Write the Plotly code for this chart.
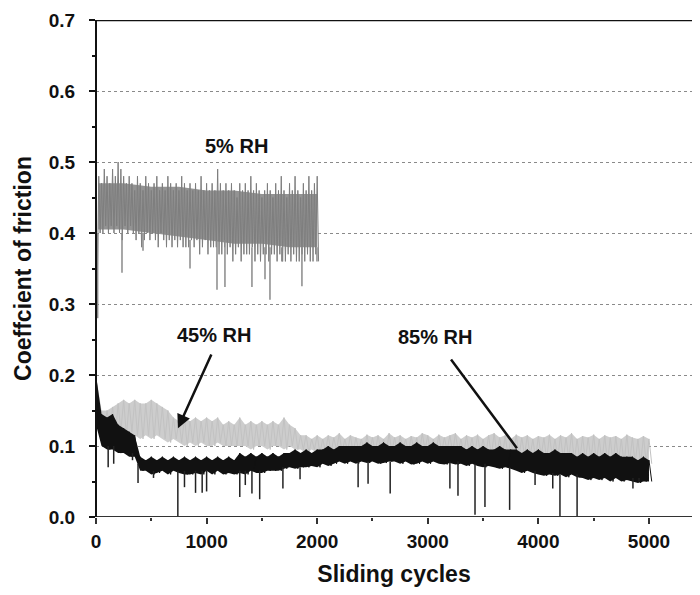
import numpy as np
import plotly.graph_objects as go

# cycles sampled every 25 (5% RH) and every 50 (45% / 85% RH)
cycles_5 = list(range(0, 2001, 25))
cycles_45 = list(range(0, 5001, 50))
cycles_85 = list(range(0, 5001, 50))

# upper / lower edges of the noisy friction band
rh5_high = [0.40, 0.48, 0.47, 0.49, 0.48, 0.47, 0.49, 0.48, 0.50, 0.49,
            0.48, 0.47, 0.48, 0.47, 0.46, 0.48, 0.47, 0.46, 0.48, 0.47,
            0.46, 0.47, 0.48, 0.46, 0.47, 0.46, 0.48, 0.47, 0.46, 0.47,
            0.46, 0.48, 0.47, 0.46, 0.47, 0.46, 0.47, 0.46, 0.48, 0.46,
            0.47, 0.46, 0.47, 0.46, 0.49, 0.47, 0.46, 0.47, 0.46, 0.47,
            0.46, 0.45, 0.47, 0.46, 0.47, 0.46, 0.48, 0.46, 0.47, 0.46,
            0.45, 0.46, 0.47, 0.46, 0.45, 0.47, 0.46, 0.48, 0.46, 0.45,
            0.47, 0.46, 0.48, 0.46, 0.45, 0.47, 0.46, 0.48, 0.46, 0.47,
            0.48]
rh5_low = [0.34, 0.40, 0.40, 0.41, 0.40, 0.41, 0.40, 0.41, 0.40, 0.39,
           0.41, 0.40, 0.41, 0.40, 0.39, 0.40, 0.38, 0.39, 0.40, 0.39,
           0.40, 0.39, 0.38, 0.40, 0.39, 0.38, 0.39, 0.38, 0.39, 0.38,
           0.39, 0.38, 0.38, 0.38, 0.39, 0.38, 0.39, 0.37, 0.38, 0.39,
           0.37, 0.38, 0.38, 0.38, 0.37, 0.37, 0.38, 0.37, 0.38, 0.36,
           0.37, 0.38, 0.36, 0.37, 0.37, 0.37, 0.38, 0.36, 0.37, 0.36,
           0.37, 0.37, 0.36, 0.37, 0.37, 0.36, 0.37, 0.36, 0.36, 0.37,
           0.36, 0.37, 0.36, 0.36, 0.37, 0.36, 0.37, 0.36, 0.36, 0.37,
           0.36]
# denser middle of the 5% RH band, every 250 cycles
core5_cycles = [20, 250, 500, 750, 1000, 1250, 1500, 1750, 2000]
core5_high = [0.47, 0.47, 0.465, 0.465, 0.46, 0.46, 0.455, 0.455, 0.455]
core5_low = [0.405, 0.405, 0.40, 0.395, 0.39, 0.385, 0.385, 0.38, 0.38]
# downward spikes of the 5% RH trace
spike5_cycles = [15, 235, 425, 850, 1094, 1166, 1410, 1528, 1573, 1680, 1862, 1998]
spike5_bottom = [0.28, 0.344, 0.375, 0.35, 0.32, 0.324, 0.324, 0.335, 0.306, 0.36, 0.325, 0.36]
spike5_top = [0.40, 0.40, 0.40, 0.39, 0.39, 0.39, 0.38, 0.38, 0.38, 0.38, 0.38, 0.38]

rh45_high = [0.20, 0.15, 0.15, 0.155, 0.16, 0.165, 0.16, 0.165, 0.16, 0.16,
             0.165, 0.16, 0.155, 0.15, 0.14, 0.135, 0.14, 0.135, 0.14, 0.135,
             0.14, 0.135, 0.14, 0.13, 0.135, 0.13, 0.14, 0.13, 0.135, 0.13,
             0.135, 0.13, 0.135, 0.13, 0.14, 0.13, 0.125, 0.115, 0.115, 0.11,
             0.115, 0.11, 0.115, 0.112, 0.118, 0.11, 0.115, 0.112, 0.11, 0.116,
             0.112, 0.115, 0.11, 0.118, 0.112, 0.115, 0.11, 0.114, 0.112, 0.118,
             0.115, 0.11, 0.116, 0.112, 0.115, 0.118, 0.11, 0.115, 0.112, 0.116,
             0.11, 0.115, 0.118, 0.112, 0.115, 0.11, 0.116, 0.112, 0.115, 0.11,
             0.114, 0.112, 0.116, 0.11, 0.115, 0.112, 0.118, 0.11, 0.114, 0.112,
             0.116, 0.11, 0.115, 0.112, 0.114, 0.11, 0.116, 0.112, 0.11, 0.114,
             0.11]
rh45_low = [0.14, 0.12, 0.12, 0.115, 0.12, 0.115, 0.12, 0.115, 0.11, 0.115,
            0.11, 0.115, 0.11, 0.105, 0.11, 0.105, 0.10, 0.105, 0.10, 0.105,
            0.10, 0.10, 0.105, 0.10, 0.10, 0.10, 0.10, 0.10, 0.095, 0.10,
            0.10, 0.095, 0.10, 0.10, 0.095, 0.10, 0.095, 0.095, 0.09, 0.095,
            0.09, 0.092, 0.09, 0.094, 0.09, 0.092, 0.09, 0.094, 0.09, 0.092,
            0.09, 0.094, 0.09, 0.092, 0.09, 0.094, 0.09, 0.092, 0.09, 0.094,
            0.09, 0.092, 0.09, 0.094, 0.09, 0.092, 0.088, 0.09, 0.086, 0.09,
            0.088, 0.085, 0.088, 0.086, 0.085, 0.088, 0.084, 0.086, 0.085, 0.082,
            0.085, 0.08, 0.084, 0.082, 0.08, 0.082, 0.078, 0.08, 0.078, 0.08,
            0.076, 0.078, 0.076, 0.075, 0.078, 0.074, 0.076, 0.075, 0.074, 0.076,
            0.075]

rh85_high = [0.20, 0.145, 0.14, 0.145, 0.13, 0.125, 0.12, 0.115, 0.085, 0.08,
             0.085, 0.08, 0.085, 0.08, 0.085, 0.08, 0.085, 0.08, 0.085, 0.08,
             0.085, 0.08, 0.085, 0.08, 0.085, 0.08, 0.09, 0.085, 0.09, 0.085,
             0.09, 0.085, 0.09, 0.085, 0.09, 0.09, 0.095, 0.09, 0.095, 0.09,
             0.095, 0.095, 0.10, 0.095, 0.10, 0.10, 0.10, 0.10, 0.10, 0.105,
             0.10, 0.10, 0.105, 0.10, 0.10, 0.105, 0.10, 0.10, 0.105, 0.10,
             0.10, 0.105, 0.10, 0.10, 0.10, 0.10, 0.10, 0.095, 0.10, 0.095,
             0.10, 0.095, 0.095, 0.10, 0.095, 0.095, 0.095, 0.09, 0.095, 0.09,
             0.095, 0.09, 0.09, 0.095, 0.09, 0.09, 0.09, 0.085, 0.09, 0.085,
             0.09, 0.085, 0.09, 0.085, 0.09, 0.085, 0.085, 0.085, 0.08, 0.085,
             0.08]
rh85_low = [0.13, 0.10, 0.095, 0.095, 0.09, 0.09, 0.085, 0.085, 0.065, 0.065,
            0.06, 0.062, 0.065, 0.06, 0.065, 0.062, 0.06, 0.06, 0.062, 0.06,
            0.065, 0.06, 0.065, 0.06, 0.062, 0.06, 0.062, 0.06, 0.065, 0.062,
            0.062, 0.065, 0.065, 0.065, 0.068, 0.07, 0.068, 0.07, 0.07, 0.072,
            0.07, 0.075, 0.072, 0.075, 0.078, 0.075, 0.078, 0.075, 0.078, 0.076,
            0.078, 0.075, 0.076, 0.078, 0.078, 0.075, 0.078, 0.074, 0.075, 0.078,
            0.075, 0.078, 0.075, 0.074, 0.076, 0.074, 0.075, 0.072, 0.075, 0.072,
            0.07, 0.072, 0.07, 0.068, 0.07, 0.068, 0.065, 0.062, 0.065, 0.062,
            0.06, 0.058, 0.06, 0.058, 0.06, 0.056, 0.06, 0.056, 0.055, 0.052,
            0.055, 0.052, 0.055, 0.05, 0.055, 0.05, 0.052, 0.05, 0.048, 0.05,
            0.05]
# downward spikes of the 85% RH trace
spike85_cycles = [110, 160, 330, 380, 520, 740, 800, 900, 960, 1000, 1300, 1350,
                  1410, 1480, 1690, 1845, 2370, 2460, 2660, 3200, 3273, 3427,
                  3517, 3740, 3970, 4130, 4195, 4350, 4855, 4910]
spike85_bottom = [0.07, 0.075, 0.08, 0.048, 0.055, 0.0, 0.042, 0.034, 0.034, 0.036,
                  0.028, 0.045, 0.033, 0.025, 0.04, 0.053, 0.042, 0.047, 0.033,
                  0.04, 0.03, 0.003, 0.014, 0.01, 0.045, 0.04, 0.0, 0.0, 0.04, 0.05]
spike85_top = [0.10, 0.10, 0.09, 0.075, 0.065, 0.065, 0.065, 0.065, 0.065, 0.065,
               0.065, 0.065, 0.065, 0.065, 0.07, 0.07, 0.078, 0.078, 0.078,
               0.078, 0.078, 0.075, 0.075, 0.07, 0.065, 0.062, 0.06, 0.06, 0.055, 0.055]

y_ticks = [0.0, 0.1, 0.2, 0.3, 0.4, 0.5, 0.6, 0.7]
x_ticks = [0, 1000, 2000, 3000, 4000, 5000]
x_max = 5389


def zigzag(cycles, high, low, step):
    # alternate top and bottom of the band so the trace reads as dense noise
    x = np.column_stack([np.array(cycles), np.array(cycles) + step / 2]).ravel()
    y = np.column_stack([high, low]).ravel()
    return x, y


def band(cycles, high, low):
    # closed outline: along the top, back along the bottom
    x = list(cycles) + list(cycles)[::-1]
    y = list(high) + list(low)[::-1]
    return x, y


def spikes(cycles, bottom, top):
    x, y = [], []
    for c, b, t in zip(cycles, bottom, top):
        x += [c, c, None]
        y += [t, b, None]
    return x, y


fig = go.Figure()

# 5% RH
bx, by = band(core5_cycles, core5_high, core5_low)
fig.add_trace(go.Scatter(x=bx, y=by, fill='toself', fillcolor='#939393',
                         mode='none', showlegend=False, hoverinfo='skip'))
zx, zy = zigzag(cycles_5, rh5_high, rh5_low, 25)
fig.add_trace(go.Scatter(x=zx, y=zy, mode='lines', line=dict(color='#7e7e7e', width=1),
                         showlegend=False, hoverinfo='skip'))
sx, sy = spikes(spike5_cycles, spike5_bottom, spike5_top)
fig.add_trace(go.Scatter(x=sx, y=sy, mode='lines', line=dict(color='#8a8a8a', width=1.5),
                         showlegend=False, hoverinfo='skip'))

# 45% RH
bx, by = band(cycles_45, rh45_high, rh45_low)
fig.add_trace(go.Scatter(x=bx, y=by, fill='toself', fillcolor='#cdcdcd',
                         mode='none', showlegend=False, hoverinfo='skip'))
zx, zy = zigzag(cycles_45, rh45_high, rh45_low, 50)
fig.add_trace(go.Scatter(x=zx, y=zy, mode='lines', line=dict(color='#c2c2c2', width=1),
                         showlegend=False, hoverinfo='skip'))

# 85% RH
bx, by = band(cycles_85, rh85_high, rh85_low)
fig.add_trace(go.Scatter(x=bx, y=by, fill='toself', fillcolor='#111111',
                         mode='none', showlegend=False, hoverinfo='skip'))
zx, zy = zigzag(cycles_85, rh85_high, rh85_low, 50)
fig.add_trace(go.Scatter(x=zx, y=zy, mode='lines', line=dict(color='#111111', width=1),
                         showlegend=False, hoverinfo='skip'))
sx, sy = spikes(spike85_cycles, spike85_bottom, spike85_top)
fig.add_trace(go.Scatter(x=sx, y=sy, mode='lines', line=dict(color='#222222', width=1.5),
                         showlegend=False, hoverinfo='skip'))

family = 'Liberation Sans, Arial, sans-serif'
tick_font = dict(family=family, size=19, color='#111111', weight='bold')
label_font = dict(family=family, size=20, color='#111111', weight='bold')
title_font = dict(family=family, size=23, color='#111111', weight='bold')

# labels and arrows
fig.add_annotation(x=1266, y=0.522, text='5% RH', showarrow=False, font=label_font)
fig.add_annotation(x=1067, y=0.256, text='45% RH', showarrow=False, font=label_font)
fig.add_annotation(x=3065, y=0.2535, text='85% RH', showarrow=False, font=label_font)
fig.add_annotation(x=741, y=0.125, ax=1049, ay=0.231, axref='x', ayref='y',
                   text='', showarrow=True, arrowhead=2, arrowsize=1.1,
                   arrowwidth=2.5, arrowcolor='#111111')
fig.add_annotation(x=3806, y=0.097, ax=3200, ay=0.224, axref='x', ayref='y',
                   text='', showarrow=True, arrowhead=0,
                   arrowwidth=2.5, arrowcolor='#111111')

# frame drawn by hand: top, left and bottom only (right side is cut off)
fig.add_shape(type='line', xref='paper', yref='y', x0=0, x1=1, y0=0.7, y1=0.7,
              line=dict(color='#111111', width=2.5))
fig.add_shape(type='line', xref='paper', yref='y', x0=0, x1=1, y0=0, y1=0,
              line=dict(color='#333333', width=2))
fig.add_shape(type='line', xref='paper', yref='paper', x0=0, x1=0, y0=0, y1=1,
              line=dict(color='#111111', width=2))

# the page body adds 8px, so the figure is a bit smaller than the window
fig.update_layout(
    width=684, height=579,
    margin=dict(l=88, r=0, t=12, b=70),
    plot_bgcolor='white', paper_bgcolor='white',
    font=tick_font,
)
fig.update_xaxes(
    range=[0, x_max], tickvals=x_ticks, ticktext=[str(v) for v in x_ticks],
    showgrid=False, zeroline=False, automargin=False, showline=False,
    ticks='outside', ticklen=6, tickwidth=1.5, tickcolor='#333333',
    ticklabelstandoff=1,
    minor=dict(dtick=500, ticks='outside', ticklen=3, tickcolor='#333333'),
    tickfont=tick_font,
    title=dict(text='Sliding cycles', standoff=16, font=title_font),
)
fig.update_yaxes(
    range=[0, 0.7], tickvals=y_ticks, ticktext=[f'{v:.1f}' for v in y_ticks],
    showgrid=True, gridcolor='#8a8a8a', griddash='dot', gridwidth=1,
    zeroline=False, automargin=False, showline=False,
    ticks='outside', ticklen=6, tickwidth=1.5, tickcolor='#111111',
    ticklabelstandoff=10,
    minor=dict(dtick=0.05, ticks='outside', ticklen=3, tickcolor='#111111',
               showgrid=False),
    tickfont=tick_font,
    title=dict(text='Coeffcient of friction', standoff=10, font=title_font),
)

fig.write_html('out.html')
